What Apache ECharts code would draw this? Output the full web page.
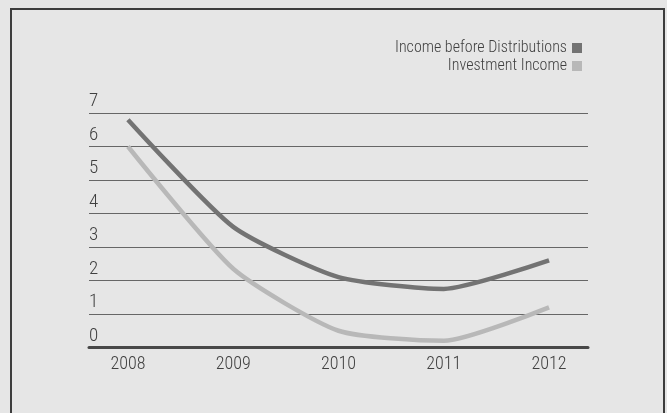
<!DOCTYPE html>
<html>
<head>
<meta charset="utf-8">
<script src="https://cdn.jsdelivr.net/npm/echarts@6/dist/echarts.min.js"></script>
<style>
  html, body { margin: 0; padding: 0; background: #e6e6e6; }
  #chart { width: 667px; height: 413px; }
</style>
</head>
<body>
<div id="chart"></div>
<script>
// Years on the horizontal axis
var years = [2008, 2009, 2010, 2011, 2012];
// Income figures per year
var incomeBeforeDistributions = [6.8, 3.6, 2.1, 1.75, 2.6];
var investmentIncome = [6.0, 2.35, 0.5, 0.2, 1.2];
// Vertical axis tick values
var yTicks = [0, 1, 2, 3, 4, 5, 6, 7];

var seriesNames = ['Income before Distributions', 'Investment Income'];
var seriesColors = ['#737373', '#b8b8b8'];
var FONT = "'Roboto Condensed', 'DejaVu Sans Condensed', sans-serif";

function pairs(values) {
  return years.map(function (y, i) { return [y, values[i]]; });
}

var chart = echarts.init(document.getElementById('chart'), null, { renderer: 'canvas' });

chart.setOption({
  backgroundColor: '#e6e6e6',
  animation: false,
  graphic: [{
    type: 'rect',
    shape: { x: 11, y: 9, width: 653, height: 420 },
    style: { fill: 'none', stroke: '#3d3d3d', lineWidth: 2 },
    silent: true,
    z: 0
  }],
  legend: {
    orient: 'vertical',
    right: 80,
    top: 35,
    align: 'right',
    icon: 'rect',
    itemWidth: 10,
    itemHeight: 10,
    itemGap: 2,
    data: seriesNames,
    textStyle: { fontFamily: FONT, fontWeight: 300, fontSize: 16, color: '#3f3f3f' }
  },
  grid: { left: 89, right: 79, top: 113, bottom: 65.5 },
  xAxis: {
    type: 'value',
    min: 2007.63,
    max: 2012.37,
    splitLine: { show: false },
    axisTick: { show: false },
    axisLine: { show: true, lineStyle: { color: '#484848', width: 3 } },
    axisLabel: {
      customValues: years,
      margin: 8,
      fontFamily: FONT,
      fontWeight: 300,
      fontSize: 18,
      color: '#404040',
      formatter: function (v) { return String(v); }
    }
  },
  yAxis: {
    type: 'value',
    min: yTicks[0],
    max: yTicks[yTicks.length - 1],
    interval: 1,
    axisLine: { show: false },
    axisTick: { show: false },
    splitLine: { show: true, lineStyle: { color: '#666', width: 1 } },
    axisLabel: {
      inside: true,
      align: 'left',
      verticalAlign: 'bottom',
      margin: 0,
      padding: [0, 0, 2, 0],
      fontFamily: FONT,
      fontWeight: 300,
      fontSize: 19,
      color: '#404040'
    }
  },
  series: [
    {
      name: seriesNames[0],
      type: 'line',
      data: pairs(incomeBeforeDistributions),
      smooth: 0.2,
      showSymbol: false,
      itemStyle: { color: seriesColors[0] },
      lineStyle: { color: seriesColors[0], width: 4.5 },
      z: 3
    },
    {
      name: seriesNames[1],
      type: 'line',
      data: pairs(investmentIncome),
      smooth: 0.2,
      showSymbol: false,
      itemStyle: { color: seriesColors[1] },
      lineStyle: { color: seriesColors[1], width: 4.5 },
      z: 2
    }
  ]
});
</script>
</body>
</html>
